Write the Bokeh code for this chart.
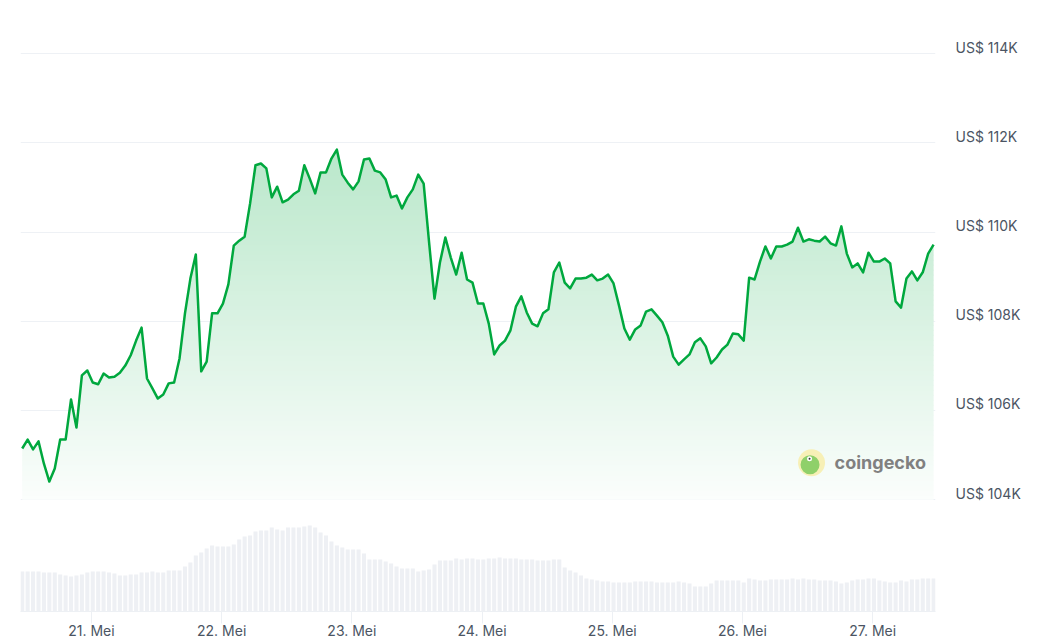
import numpy as np
import pandas as pd
from bokeh.plotting import figure
from bokeh.models import Range1d, LinearAxis, FixedTicker
from bokeh.embed import file_html
from bokeh.resources import INLINE
from bokeh.core.properties import value

# ---------------- data ----------------
start_time = "2025-05-20 11:14"   # first hourly sample

prices = [
    105150, 105350, 105130, 105310, 104810, 104410, 104700, 105350, 105350, 106250,
    105620, 106790, 106900, 106630, 106590, 106830, 106740, 106760, 106850, 107010,
    107240, 107570, 107860, 106720, 106500, 106270, 106360, 106610, 106630, 107170,
    108180, 108960, 109500, 106880, 107100, 108180, 108180, 108400, 108830, 109700,
    109810, 109900, 110640, 111500, 111540, 111430, 110780, 111020, 110670, 110730,
    110850, 110930, 111500, 111200, 110870, 111340, 111340, 111650, 111850, 111290,
    111110, 110960, 111140, 111630, 111650, 111380, 111340, 111180, 110780, 110820,
    110530, 110780, 110960, 111290, 111090, 109770, 108510, 109320, 109880, 109430,
    109050, 109540, 108940, 108870, 108400, 108400, 107950, 107260, 107460, 107570,
    107800, 108330, 108560, 108200, 107950, 107890, 108180, 108270, 109100, 109320,
    108870, 108740, 108960, 108960, 108980, 109050, 108920, 108960, 109050, 108850,
    108360, 107840, 107590, 107820, 107910, 108220, 108270, 108130, 107980, 107680,
    107210, 107030, 107150, 107260, 107530, 107620, 107440, 107060, 107190, 107370,
    107480, 107730, 107710, 107570, 108980, 108940, 109340, 109680, 109410, 109680,
    109680, 109720, 109790, 110100, 109790, 109840, 109810, 109790, 109900, 109750,
    109700, 110130, 109520, 109210, 109300, 109100, 109540, 109340, 109340, 109410,
    109300, 108450, 108310, 108960, 109120, 108920, 109100, 109520, 109720,
]

volumes_bn = [
    30.0, 30.0, 30.0, 30.0, 29.3, 29.3, 29.3, 27.8, 27.0, 26.3,
    27.0, 27.8, 29.3, 30.0, 30.0, 30.0, 29.3, 28.5, 27.0, 27.0,
    27.8, 27.8, 29.3, 29.3, 30.0, 29.3, 29.3, 30.8, 30.8, 30.8,
    33.8, 36.8, 42.0, 44.3, 47.3, 49.5, 48.8, 48.8, 48.8, 50.3,
    54.0, 56.3, 57.0, 60.0, 60.8, 60.8, 63.0, 61.5, 60.8, 63.0,
    63.0, 63.0, 63.8, 64.5, 63.0, 59.3, 57.0, 52.5, 49.5, 48.0,
    46.5, 46.5, 46.5, 43.5, 39.0, 39.0, 39.0, 37.5, 36.0, 33.8,
    32.3, 32.3, 32.3, 30.0, 30.8, 31.5, 35.3, 38.3, 38.3, 38.3,
    39.8, 39.0, 39.8, 39.8, 39.0, 39.0, 39.8, 39.8, 40.5, 39.8,
    39.8, 39.8, 39.0, 39.0, 39.0, 38.3, 38.3, 38.3, 39.0, 39.0,
    33.0, 30.8, 29.3, 27.0, 24.8, 24.0, 23.3, 22.5, 22.5, 21.8,
    21.8, 21.8, 21.8, 22.5, 22.5, 22.5, 22.5, 21.8, 21.8, 21.8,
    21.8, 22.5, 21.8, 21.0, 18.8, 18.8, 18.8, 21.0, 23.3, 23.3,
    23.3, 23.3, 23.3, 21.8, 24.8, 24.0, 23.3, 23.3, 24.0, 24.0,
    24.0, 24.0, 24.8, 24.0, 24.8, 24.0, 24.0, 23.3, 23.3, 23.3,
    22.5, 21.0, 21.8, 23.3, 24.0, 24.0, 24.8, 24.8, 23.3, 22.5,
    21.8, 21.8, 23.3, 22.5, 24.0, 24.0, 24.8, 24.8, 24.8,
]

y_ticks = [104000, 106000, 108000, 110000, 112000, 114000]
y_tick_labels = ["US$ 104K", "US$ 106K", "US$ 108K", "US$ 110K", "US$ 112K", "US$ 114K"]

day_ticks = ["2025-05-21", "2025-05-22", "2025-05-23", "2025-05-24",
             "2025-05-25", "2025-05-26", "2025-05-27"]
day_labels = ["21. Mei", "22. Mei", "23. Mei", "24. Mei", "25. Mei", "26. Mei", "27. Mei"]

watermark_text = "coingecko"

# ---------------- styling ----------------
LINE_COLOR = "#00a83e"
GRID_COLOR = "#eef1f5"
VOL_COLOR = "#eef0f4"
TEXT_COLOR = "#4b5563"
FONT = "Inter"

times = pd.date_range(start_time, periods=len(prices), freq="h")
prices_arr = np.array(prices, dtype=float)

x_range = Range1d(times[0] - pd.Timedelta(minutes=19), times[0] + pd.Timedelta(hours=168.35))
y_lo, y_hi = 101496, 114925
y_range = Range1d(y_lo, y_hi)

p = figure(
    frame_width=915, frame_height=599,
    min_border_left=20, min_border_right=93, min_border_top=12, min_border_bottom=0,
    x_axis_type="datetime", y_axis_location=None,
    x_range=x_range, y_range=y_range,
    output_backend="svg", toolbar_location=None,
)
p.outline_line_color = None
p.background_fill_color = "white"
p.border_fill_color = "white"

p.extra_y_ranges = {
    "vol": Range1d(0, 599 * 0.75),
    "labels": Range1d(y_lo - 150, y_hi - 150),
}

# grid
p.xgrid.grid_line_color = None
p.ygrid.ticker = FixedTicker(ticks=y_ticks)
p.ygrid.grid_line_color = GRID_COLOR
p.ygrid.grid_line_width = 1

# x axis
day_ms = [float(pd.Timestamp(d).value // 10**6) for d in day_ticks]
xa = p.xaxis[0]
xa.ticker = FixedTicker(ticks=day_ms)
xa.major_label_overrides = {ms: lab for ms, lab in zip(day_ms, day_labels)}
xa.axis_line_color = "#edf0f4"
xa.major_tick_line_color = "#edf0f4"
xa.major_tick_out = 12
xa.major_tick_in = 0
xa.minor_tick_line_color = None
xa.major_label_standoff = -2
xa.major_label_text_font = FONT
xa.major_label_text_font_size = "14px"
xa.major_label_text_color = TEXT_COLOR

# right price axis
ya = LinearAxis(
    y_range_name="labels",
    ticker=FixedTicker(ticks=y_ticks),
    major_label_overrides={float(t): l for t, l in zip(y_ticks, y_tick_labels)},
    axis_line_color=None, major_tick_line_color=None, minor_tick_line_color=None,
    major_tick_out=0, major_tick_in=0, minor_tick_out=0, minor_tick_in=0,
    major_label_standoff=20,
    major_label_text_font=FONT, major_label_text_font_size="14px",
    major_label_text_color=TEXT_COLOR,
)
p.add_layout(ya, "right")

# volume bars
p.vbar(x=times, top=volumes_bn, width=0.75 * 3600 * 1000, y_range_name="vol",
       fill_color=VOL_COLOR, line_color=None)

# gradient area: opaque horizontal bands under the (piecewise-linear) price line
base = y_ticks[0]
pmax = prices_arr.max()
t_num = np.arange(len(prices), dtype=float)
t_fine = np.linspace(0, len(prices) - 1, (len(prices) - 1) * 12 + 1)
p_fine = np.interp(t_fine, t_num, prices_arr)           # same straight segments
x_fine = times[0] + pd.to_timedelta(t_fine, unit="h")

n_bands = 70
overlap = 20.0
a_top, a_bot = 0.27, 0.015
rgb = np.array([0, 168, 62], dtype=float)
for k in range(n_bands):
    lo = base + (pmax - base) * k / n_bands
    hi = base + (pmax - base) * (k + 1) / n_bands
    lo_ext = lo - overlap if k > 0 else lo
    frac = (k + 0.5) / n_bands
    a = a_bot + (a_top - a_bot) * frac
    c = (255 * (1 - a) + rgb * a).round().astype(int)
    color = "#%02x%02x%02x" % tuple(c)
    p.varea(x=x_fine, y1=lo_ext, y2=np.clip(p_fine, lo_ext, hi), fill_color=color)

# price line
p.line(times, prices, line_color=LINE_COLOR, line_width=2.5, line_join="round")

# watermark
px_h = 1 / 5.425  # hours per pixel
px_p = 22.42      # dollars per pixel
wm_t = times[0] + pd.Timedelta(hours=145.5)
wm_p = 104830
p.scatter([wm_t], [wm_p], size=27, fill_color="#f7f0b6", line_color=None)
p.scatter([wm_t - pd.Timedelta(hours=1.5 * px_h)], [wm_p - 2 * px_p], size=19,
          fill_color="#8fd06a", line_color=None)
p.scatter([wm_t - pd.Timedelta(hours=2 * px_h)], [wm_p + 4 * px_p], size=5,
          fill_color="white", line_color=None)
p.scatter([wm_t - pd.Timedelta(hours=2 * px_h)], [wm_p + 4 * px_p], size=2,
          fill_color="#333333", line_color=None)
p.text([wm_t + pd.Timedelta(hours=23 * px_h)], [wm_p], text=[watermark_text],
       text_font=value(FONT), text_font_style="bold", text_font_size="18px",
       text_color="#808080", text_baseline="middle", text_align="left")

open("out.html", "w").write(file_html(p, INLINE))
